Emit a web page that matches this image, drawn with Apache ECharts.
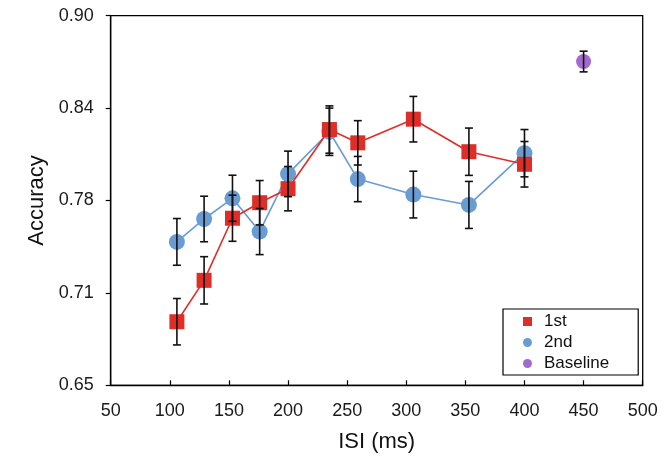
<!DOCTYPE html>
<html>
<head>
<meta charset="utf-8">
<script src="https://cdn.jsdelivr.net/npm/echarts@6/dist/echarts.min.js"></script>
<style>
html,body{margin:0;padding:0;background:#fff;}
#chart{width:665px;height:466px;}
</style>
</head>
<body>
<div id="chart"></div>
<script>
// ---- data ----
const isiX = [106, 129, 153, 176, 200, 235, 259, 306, 353, 400];
const firstY = [0.693, 0.721, 0.763, 0.7735, 0.783, 0.823, 0.814, 0.830, 0.808, 0.7995];
const firstErr = [0.0157, 0.016, 0.0156, 0.015, 0.015, 0.016, 0.015, 0.0154, 0.016, 0.0154];
const secondY = [0.747, 0.7625, 0.7765, 0.754, 0.793, 0.8215, 0.7895, 0.779, 0.772, 0.807];
const secondErr = [0.0158, 0.0154, 0.0156, 0.0156, 0.0154, 0.016, 0.0153, 0.0158, 0.0159, 0.016];
const baselineX = [450];
const baselineY = [0.869];
const baselineErr = [0.007];
const yTickValues = [0.65, 0.7125, 0.775, 0.8375, 0.90];
const yTickLabels = ['0.65', '0.71', '0.78', '0.84', '0.90'];
const seriesNames = ['1st', '2nd', 'Baseline'];

// ---- build ----
const font = '"Liberation Sans", Arial, Helvetica, sans-serif';
const toPairs = (xs, ys) => xs.map((x, i) => [x, ys[i]]);
const errData = [];
isiX.forEach((x, i) => errData.push([x, firstY[i], firstErr[i]]));
isiX.forEach((x, i) => errData.push([x, secondY[i], secondErr[i]]));
baselineX.forEach((x, i) => errData.push([x, baselineY[i], baselineErr[i]]));

const chart = echarts.init(document.getElementById('chart'), null, {renderer: 'canvas'});
chart.setOption({
  animation: false,
  backgroundColor: '#fff',
  grid: {left: 110.7, right: 22.3, top: 15.7, bottom: 80.7, show: true, borderColor: '#000', borderWidth: 1.3},
  xAxis: {
    type: 'value', min: 50, max: 500, interval: 50,
    name: 'ISI (ms)', nameLocation: 'middle', nameGap: 46,
    nameTextStyle: {fontFamily: font, fontSize: 22, color: '#111'},
    axisLine: {show: true, lineStyle: {color: '#000', width: 1.3}},
    axisTick: {show: true, inside: true, length: 5, lineStyle: {color: '#000', width: 1.2}},
    axisLabel: {fontFamily: font, fontSize: 18, color: '#1a1a1a', margin: 17},
    splitLine: {show: false}
  },
  yAxis: {
    type: 'value', min: 0.65, max: 0.90,
    name: 'Accuracy', nameLocation: 'middle', nameGap: 56, nameRotate: 90,
    nameTextStyle: {fontFamily: font, fontSize: 22, color: '#111'},
    axisLine: {show: true, lineStyle: {color: '#000', width: 1.3}},
    axisTick: {show: true, inside: false, length: 5, customValues: yTickValues, lineStyle: {color: '#000', width: 1.2}},
    axisLabel: {
      fontFamily: font, fontSize: 18, color: '#1a1a1a', margin: 17,
      customValues: yTickValues,
      formatter: function (v) {
        let best = 0;
        yTickValues.forEach((t, i) => { if (Math.abs(t - v) < Math.abs(yTickValues[best] - v)) best = i; });
        return yTickLabels[best];
      }
    },
    splitLine: {show: false}
  },
  legend: {
    orient: 'vertical', left: 503, top: 309,
    padding: [4, 29, 3, 20],
    itemGap: 4, itemWidth: 9, itemHeight: 9,
    borderColor: '#000', borderWidth: 1.2, borderRadius: 0,
    backgroundColor: '#fff',
    textStyle: {fontFamily: font, fontSize: 17, color: '#111', padding: [0, 0, 0, 7]},
    data: [
      {name: seriesNames[0], icon: 'rect'},
      {name: seriesNames[1], icon: 'circle'},
      {name: seriesNames[2], icon: 'circle'}
    ]
  },
  series: [
    {
      name: seriesNames[1], type: 'line', data: toPairs(isiX, secondY),
      symbol: 'circle', symbolSize: 16, z: 2,
      itemStyle: {color: '#689CD2'},
      lineStyle: {color: '#689CD2', width: 1.6}
    },
    {
      name: seriesNames[0], type: 'line', data: toPairs(isiX, firstY),
      symbol: 'rect', symbolSize: 15, z: 3,
      itemStyle: {color: '#DF2D27'},
      lineStyle: {color: '#DF2D27', width: 1.6}
    },
    {
      name: seriesNames[2], type: 'scatter', data: toPairs(baselineX, baselineY),
      symbol: 'circle', symbolSize: 15, z: 3,
      itemStyle: {color: '#8C45C1'}
    },
    {
      type: 'custom', z: 10, silent: true,
      data: errData,
      renderItem: function (params, api) {
        const x = api.value(0), y = api.value(1), e = api.value(2);
        const lo = api.coord([x, y - e]);
        const hi = api.coord([x, y + e]);
        const cw = 4;
        const st = {stroke: '#111', lineWidth: 1.6};
        return {
          type: 'group',
          children: [
            {type: 'line', shape: {x1: lo[0], y1: lo[1], x2: hi[0], y2: hi[1]}, style: st},
            {type: 'line', shape: {x1: lo[0] - cw, y1: lo[1], x2: lo[0] + cw, y2: lo[1]}, style: st},
            {type: 'line', shape: {x1: hi[0] - cw, y1: hi[1], x2: hi[0] + cw, y2: hi[1]}, style: st}
          ]
        };
      }
    }
  ]
});
</script>
</body>
</html>
